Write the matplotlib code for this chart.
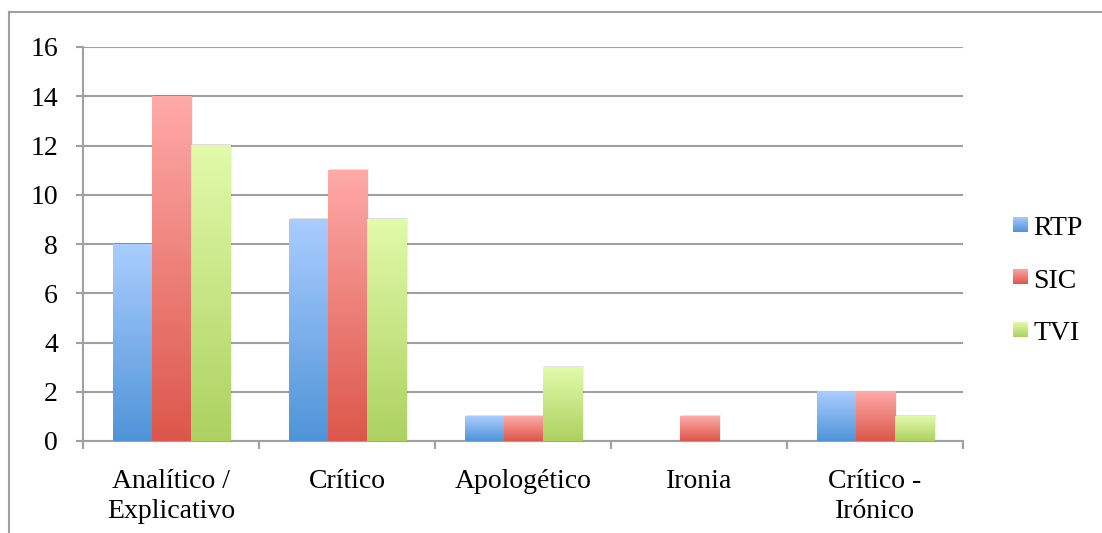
import numpy as np
import matplotlib
matplotlib.use("Agg")
import matplotlib.pyplot as plt
from matplotlib.colors import LinearSegmentedColormap
from matplotlib.patches import Rectangle
from matplotlib.lines import Line2D

categories = ["Analítico /\nExplicativo", "Crítico", "Apologético", "Ironia", "Crítico -\nIrónico"]
series_names = ["RTP", "SIC", "TVI"]
rtp = [8, 9, 1, 0, 2]
sic = [14, 11, 1, 1, 2]
tvi = [12, 9, 3, 0, 1]
y_ticks = [0, 2, 4, 6, 8, 10, 12, 14, 16]

series = [rtp, sic, tvi]
grad_colors = [("#AACDFF", "#4F94D8"), ("#FFAAA8", "#DC574B"), ("#E2FAAA", "#ADD160")]

plt.rcParams['font.family'] = ['Liberation Serif', 'DejaVu Serif']
W, H = 1102, 533
fig = plt.figure(figsize=(W / 100, H / 100), dpi=100)
ax = fig.add_axes([83 / W, 1 - 441 / H, (963 - 83) / W, (441 - 47) / H])

grid_col = "#A0A0A0"
bw = 0.222
fs = 20
grad = np.linspace(1, 0, 256).reshape(-1, 1)
for si, (vals, (c_top, c_bot)) in enumerate(zip(series, grad_colors)):
    cmap = LinearSegmentedColormap.from_list(f"g{si}", [c_bot, c_top])
    for ci, v in enumerate(vals):
        if v <= 0:
            continue
        x0 = ci - 1.5 * bw + si * bw + 0.004
        x1 = x0 + bw
        # soft shadow
        for k, a in [(0.012, 0.06), (0.006, 0.06)]:
            ax.add_patch(Rectangle((x0 + k, 0), bw, v + 0.05, facecolor="black",
                                   alpha=a, edgecolor="none", zorder=2))
        ax.imshow(grad, cmap=cmap, extent=(x0, x1, 0, v), aspect="auto",
                  interpolation="bilinear", zorder=3)

ax.set_xlim(-0.5, 4.5)
ax.set_ylim(0, 16)
ax.set_yticks(y_ticks)
ax.set_yticklabels([str(t) for t in y_ticks])
ax.yaxis.grid(True, color=grid_col, linewidth=1.5)
ax.set_axisbelow(True)

ax.set_xticks(range(len(categories)))
ax.set_xticklabels(categories, fontsize=fs, linespacing=1.3)
ax.set_xticks(np.arange(-0.5, 5, 1), minor=True)
ax.tick_params(axis="x", which="major", length=0, pad=20)
ax.tick_params(axis="x", which="minor", length=6, width=1.5, color=grid_col, direction="out")
ax.tick_params(axis="y", length=5, width=1.5, color=grid_col, labelsize=fs, pad=13)

for s in ["top", "right"]:
    ax.spines[s].set_visible(False)
for s in ["left", "bottom"]:
    ax.spines[s].set_color(grid_col)
    ax.spines[s].set_linewidth(1.5)

# legend (manual, gradient swatches)
sw_top = [217, 269, 322]
txt_base = [235, 288, 340]
for name, (c_top, c_bot), st, tb in zip(series_names, grad_colors, sw_top, txt_base):
    cmap = LinearSegmentedColormap.from_list("lg" + name, [c_bot, c_top])
    lax = fig.add_axes([1013 / W, 1 - (st + 15) / H, 15 / W, 15 / H])
    lax.imshow(grad, cmap=cmap, aspect="auto", interpolation="bilinear")
    lax.axis("off")
    fig.text(1033 / W, 1 - tb / H, name, fontsize=fs, va="baseline", ha="left")

# outer frame
fig.add_artist(Line2D([9 / W, 9 / W], [0, 1 - 12 / H], transform=fig.transFigure,
                      color=grid_col, linewidth=1.5))
fig.add_artist(Line2D([9 / W, 1], [1 - 12 / H, 1 - 12 / H], transform=fig.transFigure,
                      color=grid_col, linewidth=1.5))

fig.savefig("out.png", dpi=100)
